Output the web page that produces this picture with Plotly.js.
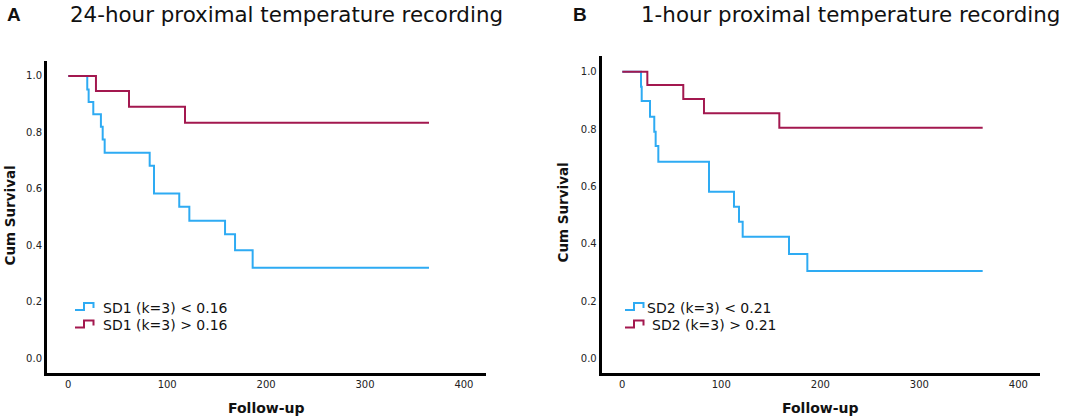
<!DOCTYPE html>
<html>
<head>
<meta charset="utf-8">
<script src="https://cdn.plot.ly/plotly-3.0.1.min.js"></script>
<style>html,body{margin:0;padding:0;background:#fff;}#chart{width:1065px;height:419px;}</style>
</head>
<body>
<div id="chart"></div>
<script>
// ---- data ----
const panelTitles = ["24-hour proximal temperature recording", "1-hour proximal temperature recording"];
const panelLetters = ["A", "B"];
const legendA = ["SD1 (k=3) < 0.16", "SD1 (k=3) > 0.16"];
const legendB = ["SD2 (k=3) < 0.21", "SD2 (k=3) > 0.21"];

const aLowTime = [0, 19.2, 20.6, 25.3, 33, 34.8, 36.8, 82.3, 86.7, 112.2, 122.4, 158.5, 168.6, 186.4, 364.7];
const aLowSurv = [1, 0.952, 0.908, 0.864, 0.82, 0.775, 0.728, 0.682, 0.584, 0.537, 0.487, 0.439, 0.383, 0.321, 0.321];
const aHighTime = [0, 28, 61.4, 118, 364.7];
const aHighSurv = [1, 0.947, 0.891, 0.834, 0.834];

const bLowTime = [0, 18.9, 19.6, 28, 32.3, 33.7, 36.4, 87.6, 112.8, 117.9, 121.6, 168.4, 186.9, 364];
const bLowSurv = [1, 0.948, 0.898, 0.843, 0.791, 0.741, 0.686, 0.581, 0.529, 0.477, 0.424, 0.364, 0.305, 0.305];
const bHighTime = [0, 25.3, 61.6, 82.5, 158.6, 364];
const bHighSurv = [1, 0.954, 0.905, 0.855, 0.805, 0.805];

const xTicks = [0, 100, 200, 300, 400];
const yTicks = [0, 0.2, 0.4, 0.6, 0.8, 1.0];
const yTickText = ["0.0", "0.2", "0.4", "0.6", "0.8", "1.0"];

// ---- styling ----
const W = 1065, H = 419;
const BLUE = "#2eabf3", RED = "#a3184f";
const FONT = "DejaVu Sans, Verdana, sans-serif";
const px = x => x / W;
const py = y => 1 - y / H;

function stepTrace(x, y, color, xa, ya, name) {
  return {x: x, y: y, type: "scatter", mode: "lines", line: {shape: "hv", color: color, width: 2},
          xaxis: xa, yaxis: ya, name: name, showlegend: false, hoverinfo: "skip"};
}

const traces = [
  stepTrace(aLowTime, aLowSurv, BLUE, "x", "y", legendA[0]),
  stepTrace(aHighTime, aHighSurv, RED, "x", "y", legendA[1]),
  stepTrace(bLowTime, bLowSurv, BLUE, "x2", "y2", legendB[0]),
  stepTrace(bHighTime, bHighSurv, RED, "x2", "y2", legendB[1])
];

function xAxis(domain, range, anchor) {
  return {domain: domain, range: range, anchor: anchor, showline: true, linecolor: "#000", linewidth: 3,
          showgrid: false, zeroline: false, ticks: "", tickvals: xTicks,
          tickfont: {family: FONT, size: 10, color: "#222"}, fixedrange: true};
}
function yAxis(domain, range, anchor) {
  return {domain: domain, range: range, anchor: anchor, showline: true, linecolor: "#000", linewidth: 3,
          showgrid: false, zeroline: false, ticks: "", tickvals: yTicks, ticktext: yTickText,
          tickfont: {family: FONT, size: 10, color: "#222"}, fixedrange: true};
}

const annotations = [];
const shapes = [];

function addText(text, x, y, size, opts) {
  annotations.push(Object.assign({text: text, x: px(x), y: py(y), xref: "paper", yref: "paper",
    showarrow: false, font: {family: FONT, size: size, color: "#111"}, xanchor: "center", yanchor: "middle"}, opts || {}));
}

// panel letters & titles
addText("<b>" + panelLetters[0] + "</b>", 14, 14, 19, {font: {family: "Liberation Sans, Arial, sans-serif", size: 19, color: "#111"}});
addText(panelTitles[0], 68, 14, 21.4, {xanchor: "left"});
addText("<b>" + panelLetters[1] + "</b>", 580, 14, 19, {font: {family: "Liberation Sans, Arial, sans-serif", size: 19, color: "#111"}});
addText(panelTitles[1], 639, 14, 21.4, {xanchor: "left"});

// axis titles
addText("<b>Follow-up</b>", 266, 408, 14);
addText("<b>Follow-up</b>", 820, 408, 14);
addText("<b>Cum Survival</b>", 9.5, 216, 13.5, {textangle: -90});
addText("<b>Cum Survival</b>", 562.5, 213, 13.5, {textangle: -90});

// custom step legends
function legendIcon(x0, cy, color) {
  const p = "M " + px(x0) + "," + py(cy + 2.5) + " L " + px(x0 + 9) + "," + py(cy + 2.5) +
            " L " + px(x0 + 9) + "," + py(cy - 4.5) + " L " + px(x0 + 18.5) + "," + py(cy - 4.5) +
            " L " + px(x0 + 18.5) + "," + py(cy + 0.5);
  shapes.push({type: "path", path: p, xref: "paper", yref: "paper", line: {color: color, width: 2}});
}
legendIcon(75, 307.5, BLUE);
legendIcon(75, 325, RED);
addText(legendA[0], 100.5, 307.5, 14, {xanchor: "left"});
addText(legendA[1], 100.5, 325, 14, {xanchor: "left"});
legendIcon(625, 307.5, BLUE);
legendIcon(625, 325, RED);
addText(legendB[0], 644.5, 307.5, 14, {xanchor: "left"});
addText(legendB[1], 649.5, 325, 14, {xanchor: "left"});

const layout = {
  width: W, height: H,
  margin: {l: 0, r: 0, t: 0, b: 0, pad: 0},
  paper_bgcolor: "#fff", plot_bgcolor: "#fff",
  showlegend: false,
  xaxis: xAxis([px(47), px(485.7)], [-21.5, 422], "y"),
  yaxis: yAxis([py(372.7), py(61)], [-0.051, 1.053], "x"),
  xaxis2: xAxis([px(601.7), px(1040)], [-20.8, 421.9], "y2"),
  yaxis2: yAxis([py(372.7), py(56)], [-0.050, 1.055], "x2"),
  annotations: annotations,
  shapes: shapes
};

Plotly.newPlot("chart", traces, layout, {displayModeBar: false, staticPlot: true});
</script>
</body>
</html>
